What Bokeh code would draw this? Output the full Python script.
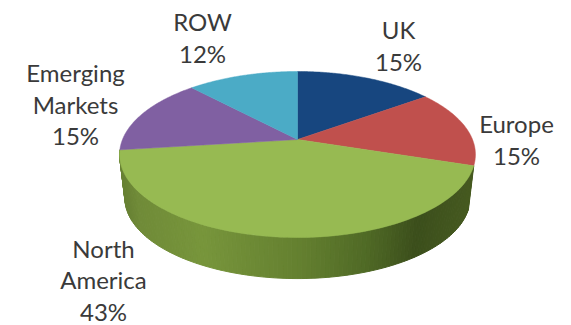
import numpy as np
from bokeh.core.properties import value
from bokeh.embed import file_html
from bokeh.models import Range1d
from bokeh.plotting import figure
from bokeh.resources import INLINE

# Market shares, clockwise from twelve o'clock
regions = ["UK", "Europe", "North America", "Emerging Markets", "ROW"]
shares = [15, 15, 43, 15, 12]
slice_colors = ["#17467f", "#c0504d", "#97ba52", "#8060a2", "#4babc6"]

# Label text and anchor for each region
label_lines = [["UK", "15%"], ["Europe", "15%"], ["North", "America", "43%"],
               ["Emerging", "Markets", "15%"], ["ROW", "12%"]]
label_x = [398, 516, 103, 75, 202]
label_first_y = [29, 123, 247.5, 72, 21]
line_gap = 31.5

# Shading along the side wall, from left to right
wall_stop_x = [122, 135, 200, 300, 367, 417, 472]
wall_stop_rgb = [(104, 130, 52), (112, 139, 56), (120, 150, 60), (100, 128, 48),
                 (80, 106, 38), (60, 79, 28), (70, 90, 32)]

CX, CY = 297, 139
A, B, K = 175, 80.3, 0.1807
DEPTH, BOTTOM_SCALE = 44, 0.97


def project(theta, scale=1.0, drop=0.0):
    u, v = np.sin(theta), np.cos(theta)
    w = 1 + K * v
    return CX + scale * A * u / w, CY + drop - scale * B * v / w


p = figure(width=571, height=325, output_backend="svg", toolbar_location=None,
           x_range=Range1d(0, 571), y_range=Range1d(325, 0), min_border=0)
p.axis.visible = False
p.grid.visible = False
p.outline_line_color = None
p.background_fill_color = "white"
p.border_fill_color = "white"

edges = np.deg2rad(np.cumsum([0] + shares) * 3.6)

# Side wall of the front slice, drawn as narrow shaded strips
na = regions.index("North America")
wall = np.linspace(edges[na], edges[na + 1], 121)
for t0, t1 in zip(wall[:-1], wall[1:]):
    tt = np.array([t0, t1])
    xt, yt = project(tt)
    xb, yb = project(tt, BOTTOM_SCALE, DEPTH)
    mid = xt.mean()
    rgb = [int(np.interp(mid, wall_stop_x, [s[i] for s in wall_stop_rgb])) for i in range(3)]
    color = "#%02x%02x%02x" % tuple(rgb)
    p.patch([xt[0], xt[1], xb[1], xb[0]], [yt[0], yt[1], yb[1], yb[0]],
            fill_color=color, line_color=color, line_width=1)

# Top face
for start, end, color in zip(edges[:-1], edges[1:], slice_colors):
    tt = np.linspace(start, end, 90)
    xs, ys = project(tt)
    p.patch(np.r_[CX, xs], np.r_[CY, ys], fill_color=color, line_color=color, line_width=0.5)

# Labels
for lines, x, y0 in zip(label_lines, label_x, label_first_y):
    for i, line in enumerate(lines):
        p.text([x], [y0 + i * line_gap], text=[line], text_align="center",
               text_baseline="middle", text_font=value("Lato"),
               text_font_size="24px", text_color="#3a3a3a")

open("out.html", "w").write(file_html(p, INLINE))
